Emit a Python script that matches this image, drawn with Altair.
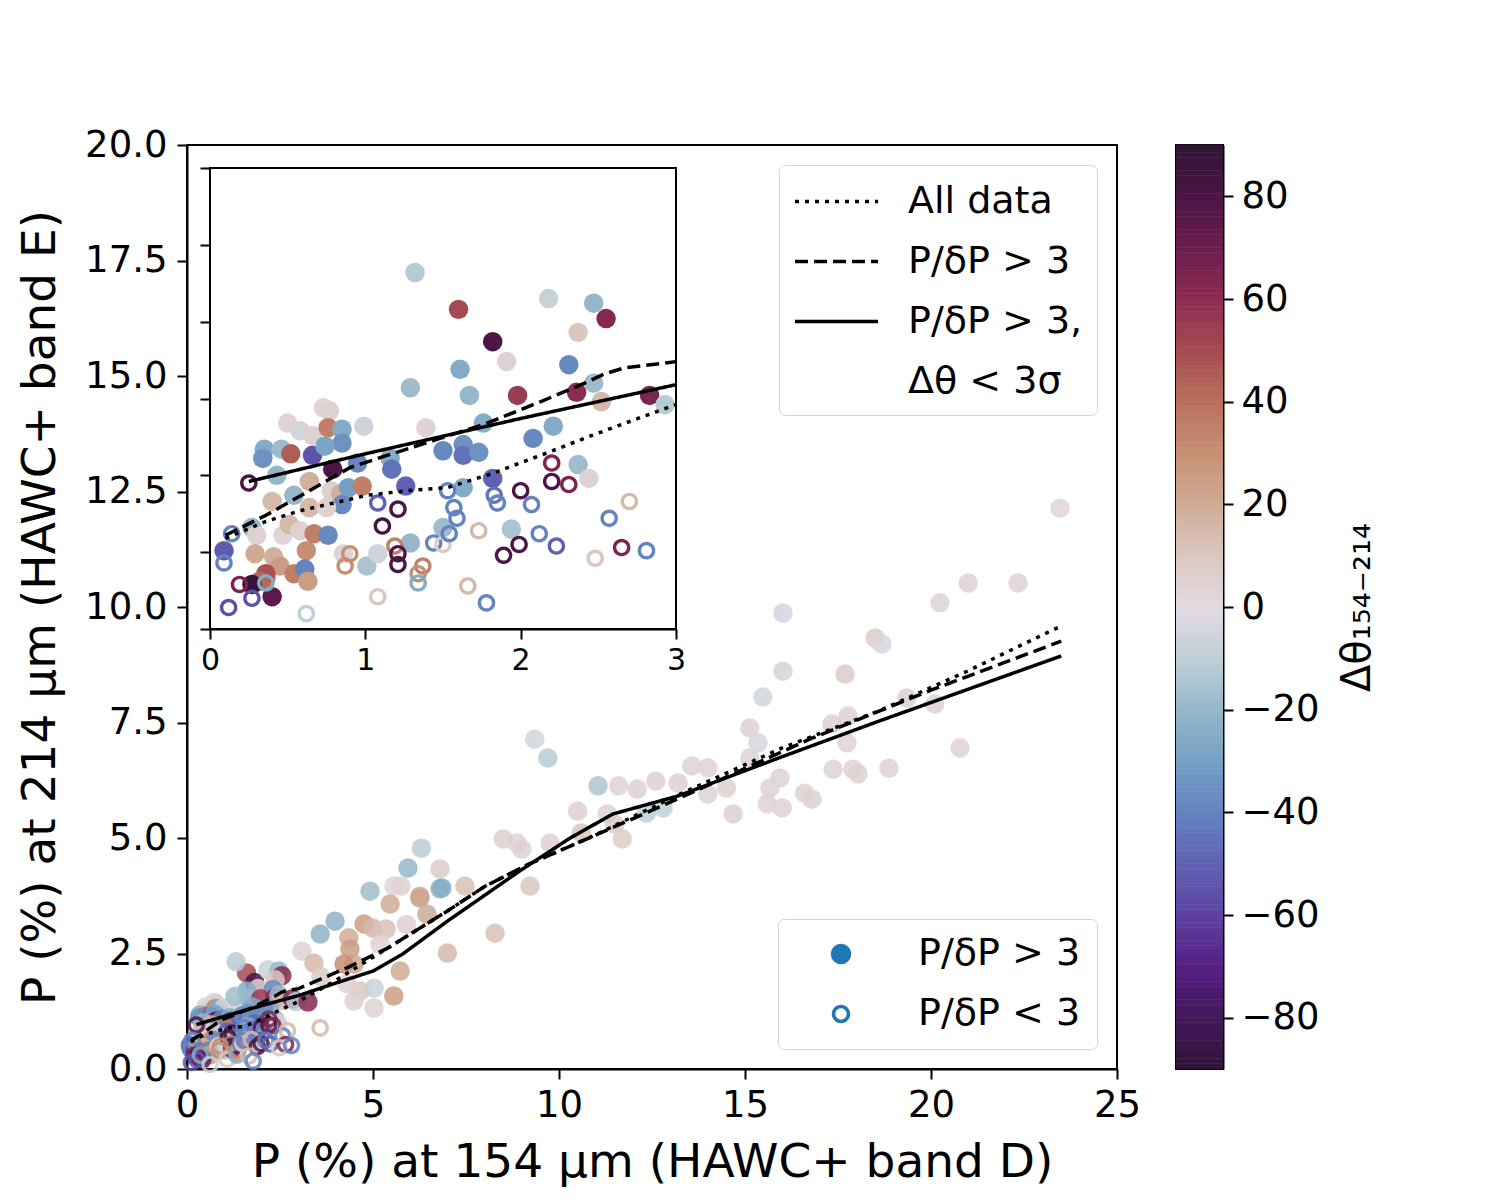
import altair as alt
import pandas as pd

# ---------------- data ----------------
# filled markers: P/dP > 3
hi_x = [0.73, 0.77, 0.50, 0.58, 0.66, 0.76, 0.85, 0.85, 0.99, 1.39, 0.35, 0.46, 0.52, 0.34, 0.66, 0.74,
        0.79, 0.95, 1.16, 1.17, 1.26, 1.50, 0.43, 0.64, 0.54, 0.40, 0.64, 0.78, 0.84, 0.89, 0.98, 0.85,
        0.75, 0.27, 0.30, 0.47, 0.51, 0.58, 0.67, 0.62, 0.76, 0.09, 0.29, 0.41, 0.45, 0.36, 0.36, 0.32,
        0.54, 0.61, 0.63, 0.86, 0.27, 0.40, 1.01, 1.08, 1.29, 1.50, 1.60, 1.82, 2.18, 2.47, 2.55, 2.37,
        1.91, 1.61, 2.31, 1.67, 1.98, 2.36, 2.47, 2.52, 2.83, 2.93, 1.76, 2.21, 2.08, 1.63, 1.63, 1.73,
        1.82, 1.63, 2.37, 2.44, 1.94, 1.32, 1.29,
        3.25, 4.92, 5.56, 5.75, 5.46, 6.26, 6.80, 3.98, 3.58, 4.76, 4.35, 4.38, 3.09, 3.41, 5.00, 5.35,
        5.90, 6.45, 5.19, 4.49, 4.22, 5.73, 4.65, 5.03, 5.56, 4.49, 5.03, 7.00, 4.30, 3.60,
        9.35, 9.70, 11.05, 11.60, 12.10, 12.60, 13.20, 10.50, 11.30, 11.50, 10.60, 11.70, 12.35, 12.80,
        8.50, 8.87, 9.00, 9.76, 9.22, 8.28, 6.30, 5.94, 6.80, 6.85, 7.47, 6.26, 6.45,
        23.47, 21.00, 22.34, 20.24, 16.02, 16.02, 15.48, 17.69, 18.50, 18.68, 19.35, 20.10, 20.78,
        15.13, 15.35, 15.13, 17.34, 17.77, 17.74, 17.37, 17.90, 18.04, 18.87, 13.57, 14.00, 14.00,
        14.50, 15.94, 15.67, 15.60, 16.00, 16.60, 16.80, 14.68]
hi_y = [1.44, 1.42, 1.34, 1.29, 1.26, 1.31, 1.30, 1.21, 1.32, 1.31, 1.17, 1.17, 1.14, 1.11, 1.13, 1.19,
        1.04, 1.08, 1.11, 1.04, 0.93, 1.16, 1.00, 0.96, 0.87, 0.83, 0.79, 0.90, 0.88, 0.92, 0.93, 0.81,
        0.79, 0.66, 0.61, 0.61, 0.68, 0.64, 0.62, 0.51, 0.61, 0.51, 0.49, 0.47, 0.41, 0.33, 0.36, 0.31,
        0.36, 0.39, 0.31, 0.49, 0.29, 0.21, 0.41, 0.49, 0.56, 0.66, 2.08, 1.87, 2.15, 2.12, 2.02, 1.93,
        1.74, 1.69, 1.72, 1.52, 1.52, 1.54, 1.60, 1.48, 1.52, 1.46, 1.34, 1.32, 1.24, 1.20, 1.13, 1.15,
        0.98, 0.92, 1.07, 0.98, 0.65, 2.32, 1.57,
        1.45, 3.85, 3.96, 3.96, 3.57, 3.74, 3.90, 3.20, 2.92, 3.14, 2.84, 2.60, 2.55, 2.29, 3.05, 3.03,
        3.13, 3.35, 2.70, 2.27, 2.27, 2.12, 1.69, 1.75, 1.58, 1.47, 1.32, 2.51, 1.85, 2.00,
        7.14, 6.73, 6.13, 6.13, 6.06, 6.23, 6.19, 5.58, 5.52, 5.30, 5.11, 4.98, 5.54, 5.65,
        4.98, 4.89, 4.76, 4.89, 3.96, 2.94, 4.78, 4.35, 4.33, 3.92, 3.96, 3.70, 3.35,
        12.14, 10.52, 10.52, 10.09, 9.87, 8.61, 8.05, 8.55, 9.33, 9.20, 8.03, 7.90, 6.95,
        7.38, 7.06, 6.73, 7.47, 7.64, 7.06, 6.49, 6.49, 6.39, 6.51, 6.56, 6.52, 5.95,
        6.08, 6.30, 6.08, 5.74, 5.65, 5.97, 5.84, 5.52]
hi_dt = [3, 5, 4, -5, 5, 35, -25, -35, -6, 4, -25, -18, 45, -35, -55, -28,
         80, -38, -25, -45, -50, -38, -20, 18, -20, 15, 15, 5, 18, -30, 35, -38,
         5, -20, 5, 3, 15, 5, 35, 30, -38, -52, 20, 18, 25, 38, 48, 42,
         35, -40, 25, 4, 88, 75, -15, -6, -20, -18, 50, 80, -8, -20, 62, 10,
         4, -25, -38, -20, 55, 60, -18, 15, 65, -12, -25, -25, -38, -35, -45, -35,
         -50, -25, -18, 4, -15, -12, -18,
         62, -18, 3, 5, 20, 18, -20, -22, -22, 25, 20, 25, 4, 15, 15, 12,
         5, -5, 5, 22, 30, 20, 10, -8, 25, 5, 4, 15, 5, 8,
         -5, -12, -15, 4, 5, 5, 5, 5, 5, 8, 10, 8, -10, -10,
         5, 5, 5, 5, 10, 12, -12, -20, 8, -25, 12, 22, 18,
         3, 4, 4, 4, -5, -5, -5, 8, 8, -3, 5, 4, 4,
         5, -3, 4, 5, 5, 4, 4, 4, 5, 4, 4, 4, 4,
         5, 4, 4, 4, 4, 5, 5, 5]

# open markers: P/dP < 3
lo_x = [0.25, 0.14, 0.09, 0.19, 0.27, 0.12, 0.36, 0.62, 1.08, 1.21, 1.11, 1.19, 1.21, 1.21, 0.87, 0.90,
        1.08, 1.37, 1.34, 1.34, 1.53, 1.44, 1.50, 1.57, 1.59, 1.54, 1.83, 1.85, 2.00, 2.07, 2.20, 2.20,
        2.31, 1.73, 1.99, 1.89, 2.12, 2.23, 1.66, 1.78, 2.57, 2.70, 2.65, 2.48, 2.81, 3.58]
lo_y = [0.95, 0.62, 0.43, 0.29, 0.20, 0.14, 0.30, 0.10, 0.82, 0.78, 0.67, 0.54, 0.49, 0.42, 0.41, 0.49,
        0.21, 0.41, 0.36, 0.30, 0.90, 0.56, 0.55, 0.79, 0.72, 0.62, 0.87, 0.82, 0.90, 0.81, 1.08, 0.96,
        0.94, 0.64, 0.55, 0.48, 0.62, 0.54, 0.28, 0.17, 0.72, 0.83, 0.53, 0.46, 0.51, 0.89]
lo_dt = [80, -40, -40, 65, -55, -55, -25, -10, -50, 80, 85, 35, 80, 80, 30, 30,
         10, 35, 30, -25, -40, -40, 8, -40, -40, -40, -45, -40, 80, -40, 65, 80,
         65, 15, 80, 80, -40, -50, 15, -40, -40, 15, 65, 10, -40, 15]

# running-median curves
all_x = [0.10, 0.36, 0.58, 0.84, 1.01, 1.27, 1.53, 1.81, 2.18, 2.46, 2.70, 3.00, 4.00, 5.00, 6.00, 7.00,
         8.00, 9.20, 10.75, 13.25, 16.00, 18.60, 21.00, 23.50]
all_y = [0.59, 0.70, 0.77, 0.83, 0.87, 0.90, 0.92, 1.01, 1.15, 1.26, 1.35, 1.46, 1.92, 2.42, 2.92, 3.42,
         3.95, 4.44, 4.98, 5.95, 6.95, 7.75, 8.62, 9.59]
snr_x = [0.10, 0.36, 0.64, 0.90, 1.14, 1.48, 1.76, 2.13, 2.39, 2.54, 2.67, 3.00, 4.30, 5.40, 6.00, 7.00,
         8.00, 9.20, 10.75, 13.20, 16.80, 20.00, 23.50]
snr_y = [0.61, 0.74, 0.90, 1.05, 1.13, 1.24, 1.33, 1.48, 1.59, 1.66, 1.70, 1.74, 2.19, 2.62, 2.92, 3.42,
         3.95, 4.44, 4.98, 5.85, 7.16, 8.20, 9.26]
ang_x = [0.25, 1.00, 2.00, 3.00, 4.00, 5.00, 5.80, 7.00, 8.95, 10.30, 11.45, 13.20, 15.90, 18.60, 23.50]
ang_y = [0.96, 1.14, 1.37, 1.59, 1.86, 2.12, 2.49, 3.20, 4.29, 5.00, 5.52, 5.91, 6.73, 7.53, 8.94]

series_names = ["All data", "P/δP > 3", "P/δP > 3, Δθ < 3σ"]
legend_extra_line = "Δθ < 3σ"          # second line of the third legend label
kind_names = ["P/δP > 3", "P/δP < 3"]

x_ticks = [0, 5, 10, 15, 20, 25]
y_ticks = [0, 2.5, 5, 7.5, 10, 12.5, 15, 17.5, 20]
inset_x_ticks = [0, 1, 2, 3]
inset_y_ticks = [0, 0.5, 1, 1.5, 2, 2.5, 3]
cbar_ticks = [-80, -60, -40, -20, 0, 20, 40, 60, 80]

# twilight_shifted-like colormap stops
cmap_stops = [-90, -80, -70, -60, -50, -40, -30, -20, -10, 0, 10, 20, 30, 40, 50, 60, 70, 80, 90]
cmap_colors = ["#2f1436", "#43185a", "#561f84", "#5e42a0", "#5f62b4", "#6483bf", "#75a0c4",
               "#95b7c9", "#c0d0d6", "#e2d9e2", "#dbc7bf", "#cfab94", "#c68f74", "#b9705c",
               "#a44b51", "#8b2c52", "#6c1d4f", "#4b1545", "#2f1436"]

# ---------------- tables ----------------
pts = pd.concat([
    pd.DataFrame({"x": hi_x, "y": hi_y, "dt": hi_dt, "kind": kind_names[0]}),
    pd.DataFrame({"x": lo_x, "y": lo_y, "dt": lo_dt, "kind": kind_names[1]}),
], ignore_index=True)

lines = pd.concat([
    pd.DataFrame({"x": all_x, "y": all_y, "series": series_names[0]}),
    pd.DataFrame({"x": snr_x, "y": snr_y, "series": series_names[1]}),
    pd.DataFrame({"x": ang_x, "y": ang_y, "series": series_names[2]}),
], ignore_index=True)

frame = pd.DataFrame({"x0": [inset_x_ticks[0]], "x1": [inset_x_ticks[-1]],
                      "y0": [inset_y_ticks[0]], "y1": [inset_y_ticks[-1]]})

FONT = "DejaVu Sans"
W, H = 930, 924
ring = ("M -0.9,0 A 0.9,0.9 0 1,0 0.9,0 A 0.9,0.9 0 1,0 -0.9,0 Z "
        "M -0.55,0 A 0.55,0.55 0 1,1 0.55,0 A 0.55,0.55 0 1,1 -0.55,0 Z")
legend_line = "M -2,0 L 2,0"

cscale = alt.Scale(domain=cmap_stops, range=cmap_colors, interpolate="rgb")
shape_enc = alt.Shape("kind:N", scale=alt.Scale(domain=kind_names, range=["circle", ring]),
                      legend=alt.Legend(title=None, orient="bottom-right", offset=20, padding=16,
                                        strokeColor="#d4d4d4", fillColor="white", cornerRadius=6,
                                        symbolSize=420, symbolFillColor="#1f77b4", symbolStrokeWidth=0,
                                        symbolOpacity=1,
                                        symbolOffset=28, labelOffset=58, labelFontSize=38, labelFont=FONT,
                                        rowPadding=22, labelLimit=0))
dash_enc = alt.StrokeDash("series:N",
                          scale=alt.Scale(domain=series_names + [legend_extra_line],
                                          range=[[4, 6], [13, 6], [1, 0], [0, 1000]]),
                          legend=alt.Legend(title=None, orient="top-right", offset=20, padding=14,
                                            strokeColor="#d4d4d4", fillColor="white", cornerRadius=6,
                                            symbolType=legend_line, symbolSize=1722, symbolStrokeWidth=3.5,
                                            symbolStrokeColor="black", symbolOffset=21,
                                            labelOffset=49, labelFontSize=38,
                                            labelFont=FONT, rowPadding=18, labelLimit=0,
                                            labelExpr="datum.label == 'P/δP > 3, Δθ < 3σ' ? 'P/δP > 3,' : datum.label"))

# ---------------- main axes ----------------
mx = alt.X("x:Q", scale=alt.Scale(domain=[0, 25], nice=False, zero=False),
           axis=alt.Axis(values=x_ticks, format="d", title="P (%) at 154 μm (HAWC+ band D)"))
my = alt.Y("y:Q", scale=alt.Scale(domain=[0, 20], nice=False, zero=False),
           axis=alt.Axis(values=y_ticks, format=".1f", title="P (%) at 214 μm (HAWC+ band E)"))

main_pts = alt.Chart(pts).mark_point(filled=True, size=380, opacity=0.85, color="#1f77b4").encode(
    x=mx, y=my, color=alt.Color("dt:Q", scale=cscale, legend=None), shape=shape_enc)
main_lines = alt.Chart(lines).mark_line(color="black", strokeWidth=3.5, strokeCap="butt").encode(
    x=mx, y=my, strokeDash=dash_enc)
main = alt.layer(main_pts, main_lines)

# ---------------- inset ----------------
ixs = alt.Scale(domain=[0, 3], range=[23, 489], nice=False, zero=False)
iys = alt.Scale(domain=[0, 3], range=[484, 23], nice=False, zero=False)
ixa = alt.Axis(orient="bottom", offset=-440, values=inset_x_ticks, format="d", title=None,
               labelFontSize=30, labelPadding=6)
iya = alt.Axis(orient="left", offset=-23, values=inset_y_ticks, labels=False, title=None)

inset_frame = alt.Chart(frame).mark_rect(fill="white", stroke="black", strokeWidth=2).encode(
    x=alt.X("x0:Q", scale=ixs, axis=ixa), x2="x1:Q",
    y=alt.Y("y0:Q", scale=iys, axis=iya), y2="y1:Q")
inset_pts = alt.Chart(pts).transform_filter("datum.x <= 3 && datum.y <= 3").mark_point(
    filled=True, size=380, opacity=1, color="#1f77b4").encode(
    x=alt.X("x:Q", scale=ixs, axis=ixa), y=alt.Y("y:Q", scale=iys, axis=iya),
    color=alt.Color("dt:Q", scale=cscale, legend=None), shape=shape_enc)
inset_lines = alt.Chart(lines).transform_filter("datum.x <= 3").mark_line(
    color="black", strokeWidth=3.5, strokeCap="butt").encode(
    x=alt.X("x:Q", scale=ixs, axis=ixa), y=alt.Y("y:Q", scale=iys, axis=iya), strokeDash=dash_enc)
inset = alt.layer(inset_frame, inset_pts, inset_lines)

plot = alt.layer(main, inset).resolve_scale(x="independent", y="independent").properties(width=W, height=H)

# ---------------- colorbar ----------------
cbar = alt.Chart(alt.sequence(-90, 90, 0.5, as_="v")).transform_calculate(
    v2="datum.v + 0.6", vc="datum.v + 0.25").mark_rect().encode(
    y=alt.Y("v:Q", scale=alt.Scale(domain=[-90, 90], nice=False, zero=False),
            axis=alt.Axis(orient="right", values=cbar_ticks, format="d", title="Δθ₁₅₄₋₂₁₄",
                          titleAngle=270, titlePadding=58, titleFontSize=40, labelPadding=8)),
    y2="v2:Q",
    color=alt.Color("vc:Q", scale=cscale, legend=None),
).properties(width=47, height=H)

chart = alt.hconcat(plot, cbar, spacing=33).resolve_legend(
    strokeDash="independent", shape="independent", color="independent"
).properties(
    padding={"left": 7, "top": 117, "right": 5, "bottom": 5}
).configure_view(stroke="black", strokeWidth=2).configure_axis(
    grid=False, labelFont=FONT, titleFont=FONT, labelFontSize=37, titleFontSize=47,
    labelColor="black", titleColor="black", titleFontWeight="normal", tickColor="black",
    domainColor="black", tickWidth=2, domainWidth=2, tickSize=10, labelPadding=8, titlePadding=16,
    labelFlush=False,
).configure_axisY(labelPadding=10, titlePadding=20).configure_legend(labelColor="black")

chart.save("out.html", embed_options={"renderer": "svg", "actions": False})
